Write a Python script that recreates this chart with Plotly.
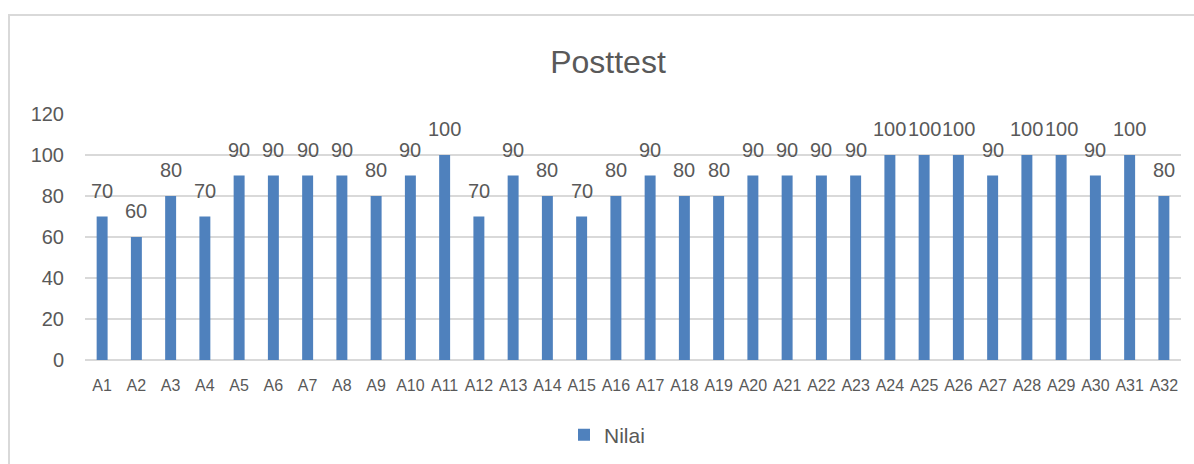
import plotly.graph_objects as go

categories = [f"A{i}" for i in range(1, 33)]
values = [70, 60, 80, 70, 90, 90, 90, 90, 80, 90, 100, 70, 90, 80, 70, 80,
          90, 80, 80, 90, 90, 90, 90, 100, 100, 100, 90, 100, 100, 90, 100, 80]
series_name = "Nilai"
title_text = "Posttest"
y_ticks = [0, 20, 40, 60, 80, 100, 120]

W, H = 1194, 464
ML, MR, MT, MB = 85, 13, 114, 104
plot_w = W - ML - MR
plot_h = H - MT - MB

TEXT = "#595959"
GRID = "#d9d9d9"
BAR = "#4F81BD"
FONT = "Liberation Sans, Arial, sans-serif"

fig = go.Figure()
fig.add_trace(go.Bar(
    x=categories, y=values, name=series_name,
    marker=dict(color=BAR, line=dict(width=0)),
    showlegend=True,
))

for c, v in zip(categories, values):
    fig.add_annotation(x=c, y=v, text=str(v), showarrow=False,
                       yanchor="middle", yshift=26,
                       font=dict(family=FONT, size=20, color=TEXT))

# chart frame (top and left edges visible)
fx0 = (9 - ML) / plot_w
fy1 = (H - MB - 15) / plot_h
fig.add_shape(type="rect", xref="paper", yref="paper",
              x0=fx0, x1=1.2, y0=-1.0, y1=fy1,
              line=dict(color=GRID, width=2), fillcolor="rgba(0,0,0,0)",
              layer="below")

fig.update_layout(
    width=W, height=H,
    margin=dict(l=ML, r=MR, t=MT, b=MB, autoexpand=False),
    paper_bgcolor="white", plot_bgcolor="white",
    bargap=0.68,
    font=dict(family=FONT, color=TEXT),
    title=dict(text=title_text, x=608 / W, xref="container", xanchor="center",
               y=1 - 62 / H, yref="container", yanchor="middle",
               font=dict(family=FONT, size=32, color=TEXT)),
    legend=dict(orientation="h", xref="container", yref="container",
                x=607 / W, xanchor="center", y=1 - 435 / H, yanchor="middle",
                font=dict(family=FONT, size=21, color=TEXT),
                bgcolor="rgba(0,0,0,0)"),
    xaxis=dict(type="category", showgrid=False, showline=False, zeroline=False,
               ticks="", tickangle=0, ticklabelstandoff=14,
               tickfont=dict(family=FONT, size=16, color=TEXT)),
    yaxis=dict(range=[0, 120], tickvals=y_ticks, showgrid=True,
               gridcolor=GRID, gridwidth=1.5, zeroline=True, zerolinecolor=GRID,
               zerolinewidth=1.5, showline=False, ticks="",
               ticklabelstandoff=20,
               tickfont=dict(family=FONT, size=20, color=TEXT)),
)

fig.write_html("out.html",
               config={"displayModeBar": False},
               post_script="document.body.style.margin='0';document.body.style.overflow='hidden';")
